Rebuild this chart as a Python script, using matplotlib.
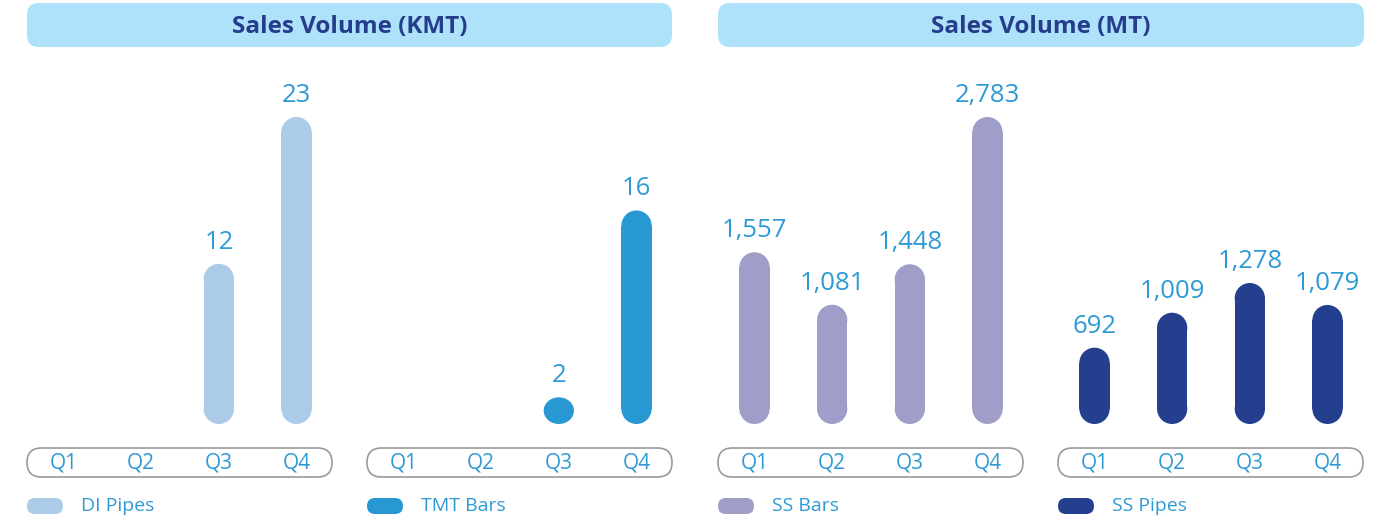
import matplotlib
matplotlib.use('Agg')
import matplotlib.pyplot as plt
from matplotlib.patches import FancyBboxPatch, BoxStyle, Ellipse
from matplotlib.transforms import blended_transform_factory

plt.rcParams['font.family'] = ['Open Sans', 'DejaVu Sans']

# datos
quarters = ['Q1', 'Q2', 'Q3', 'Q4']
di_pipes = [None, None, 12, 23]
tmt_bars = [None, None, 2, 16]
ss_bars = [1557, 1081, 1448, 2783]
ss_pipes = [692, 1009, 1278, 1079]

series_names = ['DI Pipes', 'TMT Bars', 'SS Bars', 'SS Pipes']
series_values = [di_pipes, tmt_bars, ss_bars, ss_pipes]
colors = ['#abcbe8', '#2898d3', '#9e9ec8', '#253f8f']
titles = ['Sales Volume (KMT)', 'Sales Volume (MT)']

W, H = 1382, 520
label_color = '#2e9ad5'
title_color = '#263c8c'
header_fill = '#aee2fa'

fig = plt.figure(figsize=(W / 100, H / 100), dpi=100)
inch = fig.dpi_scale_trans  # decoraciones en pulgadas (isotropo)


def px_box(x0, y0, x1, y1):
    # caja en pixeles (origen arriba) -> pulgadas
    return x0 / 100, (H - y1) / 100, (x1 - x0) / 100, (y1 - y0) / 100


# cabeceras
for k, (x0, x1) in enumerate([(27, 672), (718, 1364)]):
    bx, by, bw, bh = px_box(x0, 3, x1, 47)
    fig.patches.append(FancyBboxPatch((bx, by), bw, bh,
                                      boxstyle=BoxStyle.Round(pad=0, rounding_size=0.12),
                                      transform=inch, fc=header_fill, ec='none'))
    fig.text((x0 + x1) / 2 / W, 1 - 27 / H, titles[k], ha='center', va='center',
             fontsize=17.5, fontweight='bold', color=title_color)

panel_left = [27, 367, 718, 1058]
panel_w = 306
y_zero, y_top = 424, 60
xlo, xhi = -0.47, 3.47
bar_w = 0.39

for p in range(4):
    vals = series_values[p]
    group_max = 23 if p < 2 else 2783
    ymax = group_max * (y_zero - y_top) / 307
    left = panel_left[p]
    ax = fig.add_axes([left / W, 1 - y_zero / H, panel_w / W, (y_zero - y_top) / H])
    ax.set_xlim(xlo, xhi)
    ax.set_ylim(0, ymax)
    ax.axis('off')

    # radio de las puntas redondeadas en unidades de y
    xu_per_px = (xhi - xlo) / panel_w
    yu_per_px = ymax / (y_zero - y_top)
    r = bar_w / 2 * yu_per_px / xu_per_px

    for i, v in enumerate(vals):
        if v is None:
            continue
        if v <= 2 * r:
            ax.add_patch(Ellipse((i, v / 2), bar_w, v, fc=colors[p], ec='none', clip_on=False))
        else:
            ax.bar(i, v - 2 * r, bottom=r, width=bar_w, color=colors[p], clip_on=False)
            ax.add_patch(Ellipse((i, r), bar_w, 2 * r, fc=colors[p], ec='none', clip_on=False))
            ax.add_patch(Ellipse((i, v - r), bar_w, 2 * r, fc=colors[p], ec='none', clip_on=False))
        ax.annotate(f'{v:,}', (i, v), xytext=(0, 9), textcoords='offset pixels',
                    ha='center', va='bottom', fontsize=18.5, color=label_color)

    # caja de trimestres
    bx, by, bw, bh = px_box(left, 448, left + panel_w - 1, 477)
    fig.patches.append(FancyBboxPatch((bx, by), bw, bh,
                                      boxstyle=BoxStyle.Round(pad=0, rounding_size=bh / 2),
                                      transform=inch, fc='none', ec='#9a9a9a', lw=1.2))
    tr = blended_transform_factory(ax.transData, fig.transFigure)
    for i, q in enumerate(quarters):
        ax.text(i, 1 - 463 / H, q, transform=tr, ha='center', va='center',
                fontsize=15, color=label_color, clip_on=False)

    # leyenda
    lx, ly, lw_, lh = px_box(left, 498, left + 36, 514)
    fig.patches.append(FancyBboxPatch((lx, ly), lw_, lh,
                                      boxstyle=BoxStyle.Round(pad=0, rounding_size=lh / 2),
                                      transform=inch, fc=colors[p], ec='none'))
    fig.text((left + 54) / W, 1 - 506 / H, series_names[p], ha='left', va='center',
             fontsize=14, color=label_color)

fig.savefig('out.png', dpi=100)
